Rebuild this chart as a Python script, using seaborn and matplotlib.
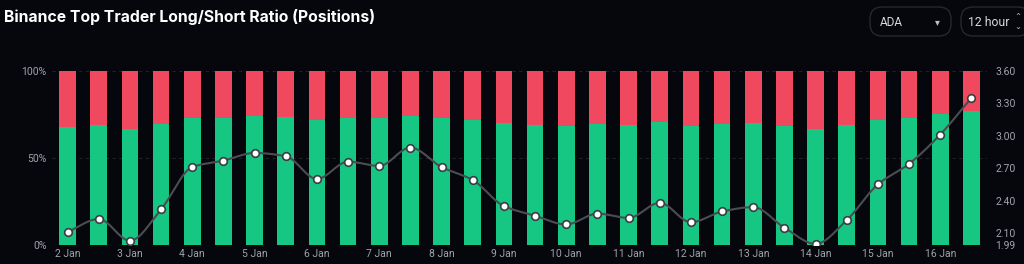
import numpy as np
import pandas as pd
import matplotlib
matplotlib.use("Agg")
import matplotlib.pyplot as plt
import seaborn as sns
from matplotlib.patches import FancyBboxPatch

# ---------------- data ----------------
days = ["2 Jan", "3 Jan", "4 Jan", "5 Jan", "6 Jan", "7 Jan", "8 Jan", "9 Jan",
        "10 Jan", "11 Jan", "12 Jan", "13 Jan", "14 Jan", "15 Jan", "16 Jan"]
periods = [f"{d} {h}" for d in days for h in ("00:00", "12:00")]
long_pct = [67.5, 68.8, 66.7, 69.6, 72.9, 73.0, 74.0, 73.6, 71.9, 73.0,
            72.9, 74.2, 72.9, 71.9, 70.0, 69.0, 68.5, 69.4, 68.8, 70.4,
            68.5, 69.6, 70.0, 68.3, 66.6, 68.8, 71.7, 73.0, 75.0, 77.1]
ratio = [2.11, 2.23, 2.03, 2.32, 2.71, 2.77, 2.84, 2.81, 2.60, 2.76,
         2.72, 2.89, 2.71, 2.59, 2.35, 2.26, 2.18, 2.28, 2.24, 2.38,
         2.20, 2.30, 2.34, 2.15, 2.00, 2.22, 2.55, 2.74, 3.01, 3.35]
left_ticks = [0, 50, 100]
left_labels = ["0%", "50%", "100%"]
right_ticks = [1.99, 2.10, 2.40, 2.70, 3.00, 3.30, 3.60]
title = "Binance Top Trader Long/Short Ratio (Positions)"

df = pd.DataFrame({"period": periods, "long": long_pct, "total": [100] * len(periods),
                   "ratio": ratio})
df["idx"] = np.arange(len(df))

BG = "#05070d"
GREEN = "#16c784"
RED = "#f0485e"
TXT = "#a0a3aa"

sns.set_theme(style="dark")
plt.rcParams["font.family"] = ["Roboto", "DejaVu Sans"]

fig = plt.figure(figsize=(10.24, 2.64), dpi=100, facecolor=BG)
ax = fig.add_axes([52 / 1024, 19 / 264, (987 - 52) / 1024, (245 - 70.7) / 264])
ax.set_facecolor(BG)

sns.barplot(data=df, x="idx", y="total", color=RED, width=0.535, ax=ax,
            saturation=1, linewidth=0, native_scale=True)
sns.barplot(data=df, x="idx", y="long", color=GREEN, width=0.535, ax=ax,
            saturation=1, linewidth=0, native_scale=True)

ax.set_xlim(-0.5, len(df) - 0.5)
ax.set_ylim(0, 100)
ax.set_yticks(left_ticks)
ax.set_yticklabels(left_labels)
ax.set_xticks(df["idx"][::2])
ax.set_xticklabels(days)
ax.set_xlabel("")
ax.set_ylabel("")
for y in left_ticks:
    ax.axhline(y, color="#1f2127", lw=0.8, ls=(0, (3, 3)), zorder=0)
ax.tick_params(axis="both", colors=TXT, labelsize=7.5, length=0, pad=4)
ax.tick_params(axis="x", pad=3)
for s in ax.spines.values():
    s.set_visible(False)
ax.grid(False)

ax2 = ax.twinx()
ax2.set_ylim(1.99, 3.60)
ax2.set_yticks(right_ticks)
ax2.set_yticklabels([f"{t:.2f}" for t in right_ticks])
ax2.tick_params(axis="y", colors=TXT, labelsize=7.5, length=0, pad=6)
for s in ax2.spines.values():
    s.set_visible(False)
ax2.grid(False)

# smooth (monotone cubic) rendering of the ratio line
x = df["idx"].to_numpy(float)
y = df["ratio"].to_numpy(float)
h = np.diff(x)
d = np.diff(y) / h
m = np.zeros_like(y)
m[0], m[-1] = d[0], d[-1]
for i in range(1, len(y) - 1):
    if d[i - 1] * d[i] > 0:
        m[i] = 2 / (1 / d[i - 1] + 1 / d[i])
xs, ys = [], []
for i in range(len(x) - 1):
    t = np.linspace(0, 1, 20)
    h00 = 2 * t**3 - 3 * t**2 + 1
    h10 = t**3 - 2 * t**2 + t
    h01 = -2 * t**3 + 3 * t**2
    h11 = t**3 - t**2
    xs.extend(x[i] + t * h[i])
    ys.extend(h00 * y[i] + h10 * h[i] * m[i] + h01 * y[i + 1] + h11 * h[i] * m[i + 1])
ax2.plot(xs, ys, color="#4a4d52", lw=1.5, zorder=3)
sns.scatterplot(data=df, x="idx", y="ratio", ax=ax2, s=30, color="white",
                edgecolor="#3a3d42", linewidth=1.2, zorder=4, legend=False)
ax2.set_xlabel("")
ax2.set_ylabel("")
ax2.set_xlim(-0.5, len(df) - 0.5)

# title and controls
fig.text(4 / 1024, 1 - 17 / 264, title, color="white", fontsize=11.3,
         fontweight="bold", family=["Inter", "DejaVu Sans"], va="center", ha="left")

def box(x0, x1, y0, y1):
    p = FancyBboxPatch((x0 / 1024, 1 - y1 / 264), (x1 - x0) / 1024, (y1 - y0) / 264,
                       boxstyle="round,pad=0,rounding_size=0.012",
                       transform=fig.transFigure, facecolor=BG, edgecolor="#26282e",
                       lw=1, mutation_aspect=1024 / 264)
    fig.patches.append(p)

box(870, 951, 7, 36)
fig.text(880 / 1024, 1 - 22 / 264, "ADA", color="#d8d9dc", fontsize=8.5, va="center")
fig.text(937 / 1024, 1 - 22 / 264, "▾", color="#bfc1c6", fontsize=7, va="center",
         ha="center", family=["DejaVu Sans"])
box(961, 1030, 7, 36)
fig.text(968 / 1024, 1 - 22 / 264, "12 hour", color="#d8d9dc", fontsize=8.8, va="center")
fig.text(1018 / 1024, 1 - 22 / 264, "⌃", color="#bfc1c6", fontsize=6, va="bottom",
         ha="center", family=["DejaVu Sans"])
fig.text(1018 / 1024, 1 - 22 / 264, "⌄", color="#bfc1c6", fontsize=6, va="top",
         ha="center", family=["DejaVu Sans"])

fig.savefig("out.png", dpi=100, facecolor=BG)
